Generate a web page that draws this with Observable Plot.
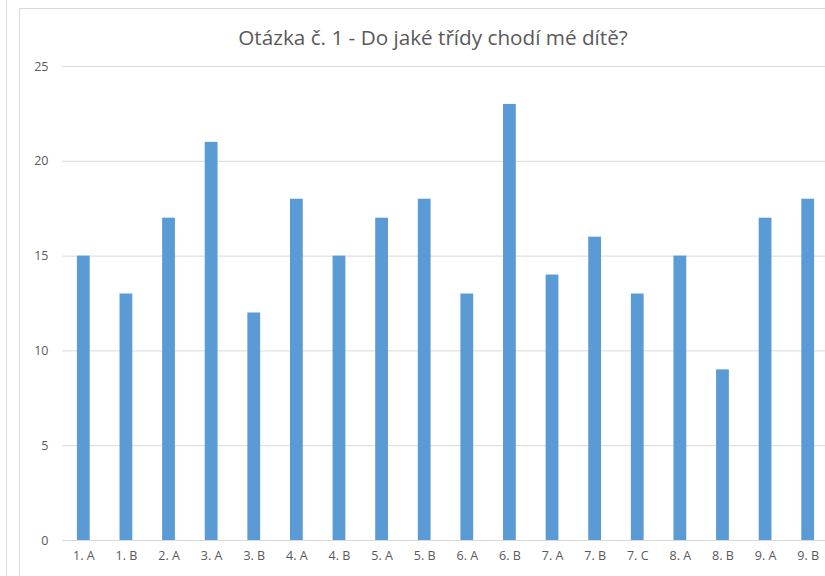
<!DOCTYPE html>
<html>
<head>
<meta charset="utf-8">
<script src="https://cdn.jsdelivr.net/npm/d3@7"></script>
<script src="https://cdn.jsdelivr.net/npm/@observablehq/plot@0.6"></script>
<style>
  html, body { margin: 0; padding: 0; background: #fff; overflow: hidden; }
  #wrap { position: relative; width: 825px; height: 576px; overflow: hidden; font-family: "Open Sans", sans-serif; }
  #outer { position: absolute; left: 6px; top: -2px; width: 0; height: 600px; border-left: 1px solid #d9d9d9; }
  #frame { position: absolute; left: 19px; top: 8px; width: 820px; height: 600px; border: 1px solid #d9d9d9; box-sizing: border-box; }
  #title { position: absolute; left: 0; width: 866px; top: 23px; text-align: center; font-size: 20.7px; color: #595959; line-height: 28px; }
  #chart { position: absolute; left: 0; top: 0; }
</style>
</head>
<body>
<div id="wrap">
  <div id="outer"></div>
  <div id="frame"></div>
  <div id="title">Otázka č. 1 - Do jaké třídy chodí mé dítě?</div>
  <div id="chart"></div>
</div>
<script>
const categories = ["1. A","1. B","2. A","3. A","3. B","4. A","4. B","5. A","5. B","6. A","6. B","7. A","7. B","7. C","8. A","8. B","9. A","9. B"];
const values = [15,13,17,21,12,18,15,17,18,13,23,14,16,13,15,9,17,18];
const yTicks = [0,5,10,15,20,25];

const data = categories.map((c, i) => ({cat: c, val: values[i]}));

const plot = Plot.plot({
  width: 825,
  height: 576,
  marginTop: 66,
  marginBottom: 36,
  marginLeft: 62,
  marginRight: 0,
  style: {background: "transparent", fontFamily: "Open Sans, sans-serif", fontSize: "12px", color: "#595959", overflow: "hidden"},
  x: {domain: categories, range: [62, 829], paddingInner: 0.7, paddingOuter: 0.35, round: false, label: null},
  y: {domain: [0, 25], label: null},
  marks: [
    Plot.ruleY(yTicks, {stroke: "#d9d9d9", strokeWidth: 1}),
    Plot.barY(data, {x: "cat", y: "val", fill: "#5b9bd5"}),
    Plot.axisY(yTicks, {tickSize: 0, tickPadding: 14, fill: "#595959", label: null, fontSize: 12.5}),
    Plot.axisX({tickSize: 0, tickPadding: 11, fill: "#595959", label: null, fontSize: 12.5})
  ]
});
document.getElementById("chart").appendChild(plot);
</script>
</body>
</html>
